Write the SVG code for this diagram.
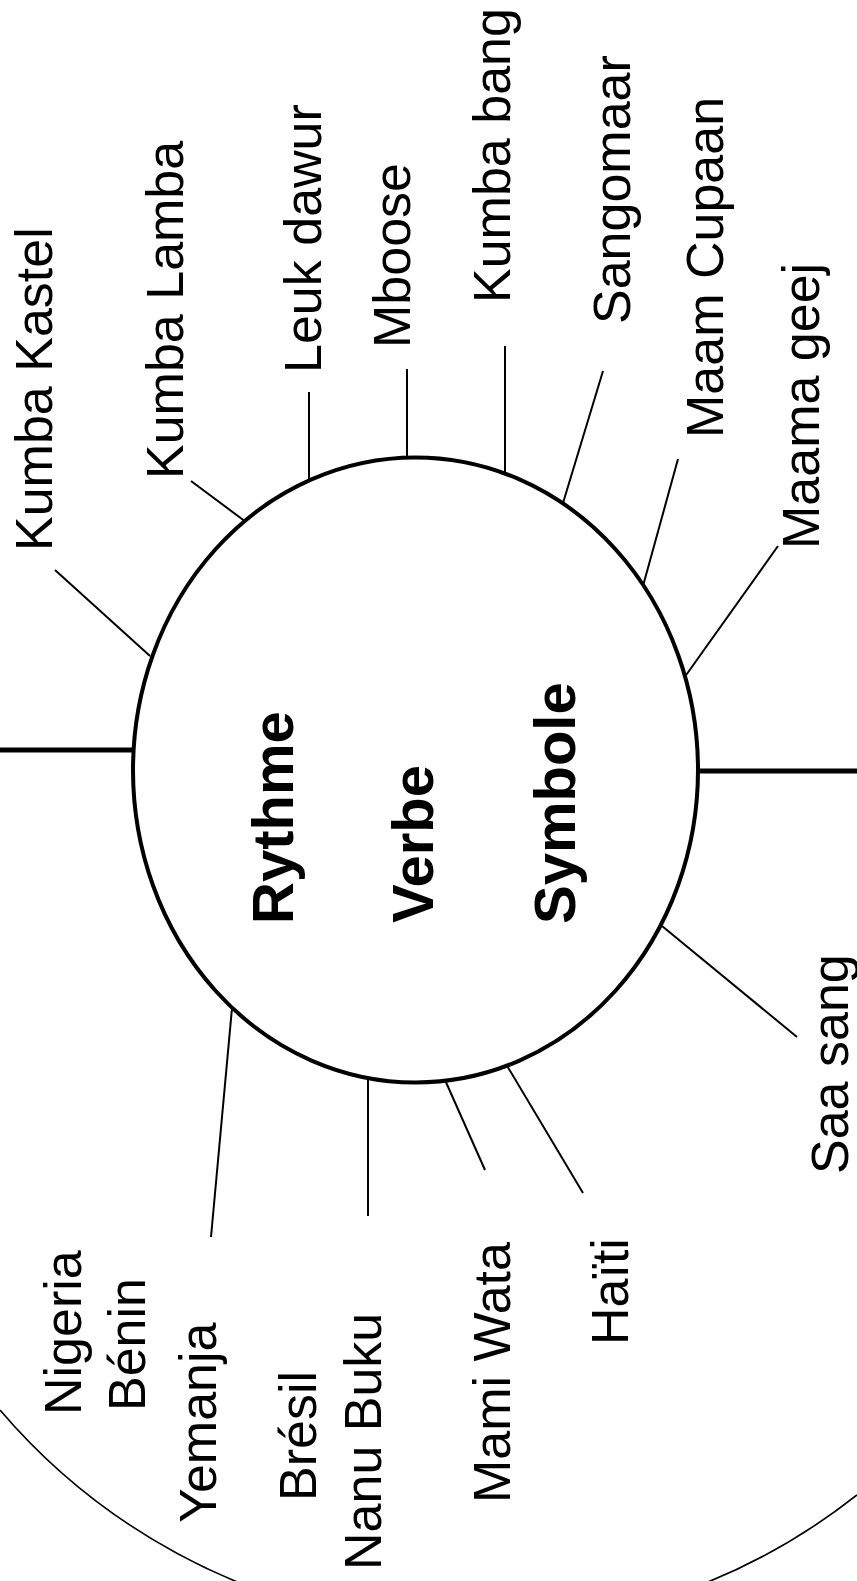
<svg xmlns="http://www.w3.org/2000/svg" width="857" height="1581" viewBox="0 0 857 1581">
<style>
.lbl{font-family:"Liberation Sans",Arial,sans-serif;font-size:52px;fill:#000}
.core{font-family:"Liberation Sans",Arial,sans-serif;font-size:58px;font-weight:bold;fill:#000}
.tick{stroke:#000;stroke-width:2;fill:none}
.thick{stroke:#000;stroke-width:5;fill:none}
</style>
<rect width="857" height="1581" fill="#fff"/>
<path id="outer-arc" d="M0,1410 A621,621 0 0 0 857,1495" fill="none" stroke="#000" stroke-width="1.6"/>
<g id="connectors">
<line class="thick" x1="0" y1="750" x2="134" y2="750"/>
<line class="thick" x1="697" y1="771" x2="857" y2="771"/>
<line class="tick" x1="55" y1="570" x2="150" y2="656"/>
<line class="tick" x1="191" y1="481" x2="246" y2="522"/>
<line class="tick" x1="309" y1="392" x2="309" y2="481"/>
<line class="tick" x1="407" y1="369" x2="407" y2="459"/>
<line class="tick" x1="505" y1="346" x2="505" y2="474"/>
<line class="tick" x1="603" y1="371" x2="563" y2="503"/>
<line class="tick" x1="678" y1="459" x2="643" y2="586"/>
<line class="tick" x1="778" y1="546" x2="684" y2="678"/>
<line class="tick" x1="797" y1="1037" x2="662" y2="926"/>
<line class="tick" x1="583" y1="1193" x2="506" y2="1064"/>
<line class="tick" x1="485" y1="1170" x2="445" y2="1080"/>
<line class="tick" x1="368" y1="1216" x2="368" y2="1078"/>
<line class="tick" x1="211" y1="1237" x2="232" y2="1008"/>
</g>
<g id="core">
<ellipse cx="415.5" cy="770" rx="282.5" ry="312.5" fill="#fff" stroke="#000" stroke-width="4"/>
<text class="core" transform="translate(293,924) rotate(-90)">Rythme</text>
<text class="core" transform="translate(433,923) rotate(-90)">Verbe</text>
<text class="core" transform="translate(575,924) rotate(-90)">Symbole</text>
</g>
<g id="kumba-kastel"><text class="lbl" transform="translate(52,551) rotate(-90)">Kumba Kastel</text></g>
<g id="kumba-lamba"><text class="lbl" transform="translate(183,479) rotate(-90)">Kumba Lamba</text></g>
<g id="leuk-dawur"><text class="lbl" transform="translate(321,373) rotate(-90)">Leuk dawur</text></g>
<g id="mboose"><text class="lbl" transform="translate(410,348) rotate(-90)">Mboose</text></g>
<g id="kumba-bang"><text class="lbl" transform="translate(510,303) rotate(-90)">Kumba bang</text></g>
<g id="sangomaar"><text class="lbl" transform="translate(630,324) rotate(-90)">Sangomaar</text></g>
<g id="maam-cupaan"><text class="lbl" transform="translate(723,438) rotate(-90)">Maam Cupaan</text></g>
<g id="maama-geej"><text class="lbl" transform="translate(819,549) rotate(-90)">Maama geej</text></g>
<g id="saa-sang"><text class="lbl" transform="translate(848,1174) rotate(-90)">Saa sang</text></g>
<g id="haiti"><text class="lbl" transform="translate(628,1345) rotate(-90)">Haïti</text></g>
<g id="mami-wata"><text class="lbl" transform="translate(510,1503) rotate(-90)">Mami Wata</text></g>
<g id="nanu-buku"><text class="lbl" transform="translate(381,1570) rotate(-90)">Nanu Buku</text></g>
<g id="bresil"><text class="lbl" transform="translate(316,1501) rotate(-90)">Brésil</text></g>
<g id="yemanja"><text class="lbl" transform="translate(216,1523) rotate(-90)">Yemanja</text></g>
<g id="benin"><text class="lbl" transform="translate(145,1411) rotate(-90)">Bénin</text></g>
<g id="nigeria"><text class="lbl" transform="translate(81,1415) rotate(-90)">Nigeria</text></g>
</svg>
